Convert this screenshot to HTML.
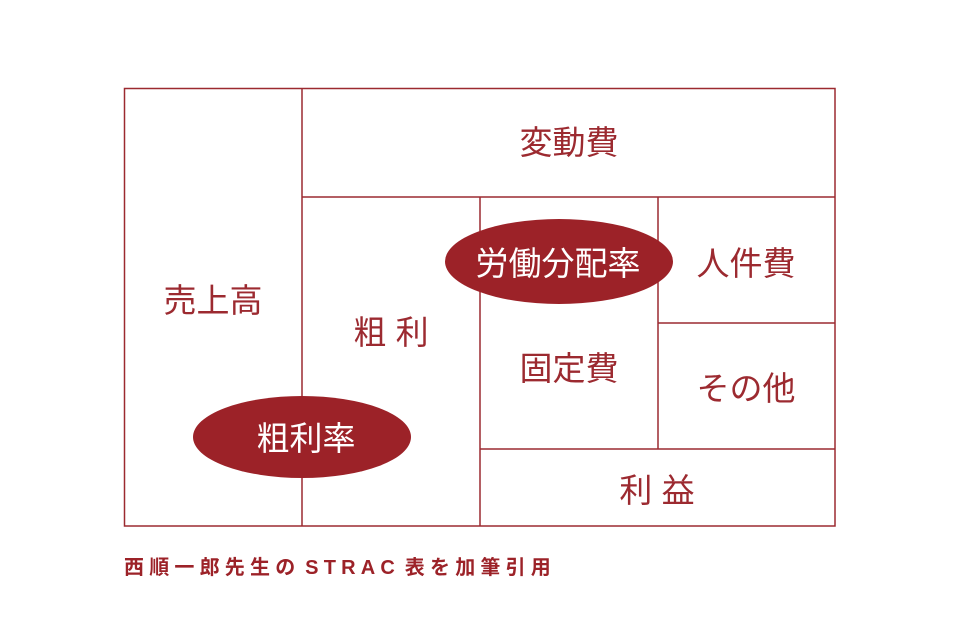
<!DOCTYPE html>
<html><head><meta charset="utf-8"><style>
html,body{margin:0;padding:0;background:#fff;}
svg{display:block;}
text{font-family:"Liberation Sans","Noto Sans CJK JP",sans-serif;}
</style></head><body>
<svg width="960" height="640" viewBox="0 0 960 640" xmlns="http://www.w3.org/2000/svg">
<g stroke="#9c2a30" stroke-width="1.5" fill="none">
<rect x="124.5" y="88.5" width="710.5" height="437.5"/>
<line x1="302" y1="88" x2="302" y2="526"/>
<line x1="302" y1="197" x2="835" y2="197"/>
<line x1="480" y1="197" x2="480" y2="526"/>
<line x1="658" y1="197" x2="658" y2="449"/>
<line x1="658" y1="323" x2="835" y2="323"/>
<line x1="480" y1="449" x2="835" y2="449"/>
</g>
<ellipse cx="559" cy="261.5" rx="114" ry="42.5" fill="#9c2228"/>
<ellipse cx="302" cy="437" rx="109" ry="41" fill="#9c2228"/>
<g fill="#9c2a30" font-size="33" text-anchor="middle">
<text x="569" y="154">変動費</text>
<text x="213" y="312">売上高</text>
<text x="391" y="344">粗 利</text>
<text x="569" y="380">固定費</text>
<text x="746" y="275">人件費</text>
<text x="746" y="400">その他</text>
<text x="657" y="502">利 益</text>
</g>
<g fill="#fff" font-size="33" text-anchor="middle">
<text x="558" y="275">労働分配率</text>
<text x="306" y="450">粗利率</text>
</g>
<text x="124" y="574" fill="#9c2228" font-size="20" font-weight="bold" letter-spacing="5.2" word-spacing="-6">西順一郎先生の STRAC 表を加筆引用</text>
</svg>
</body></html>
